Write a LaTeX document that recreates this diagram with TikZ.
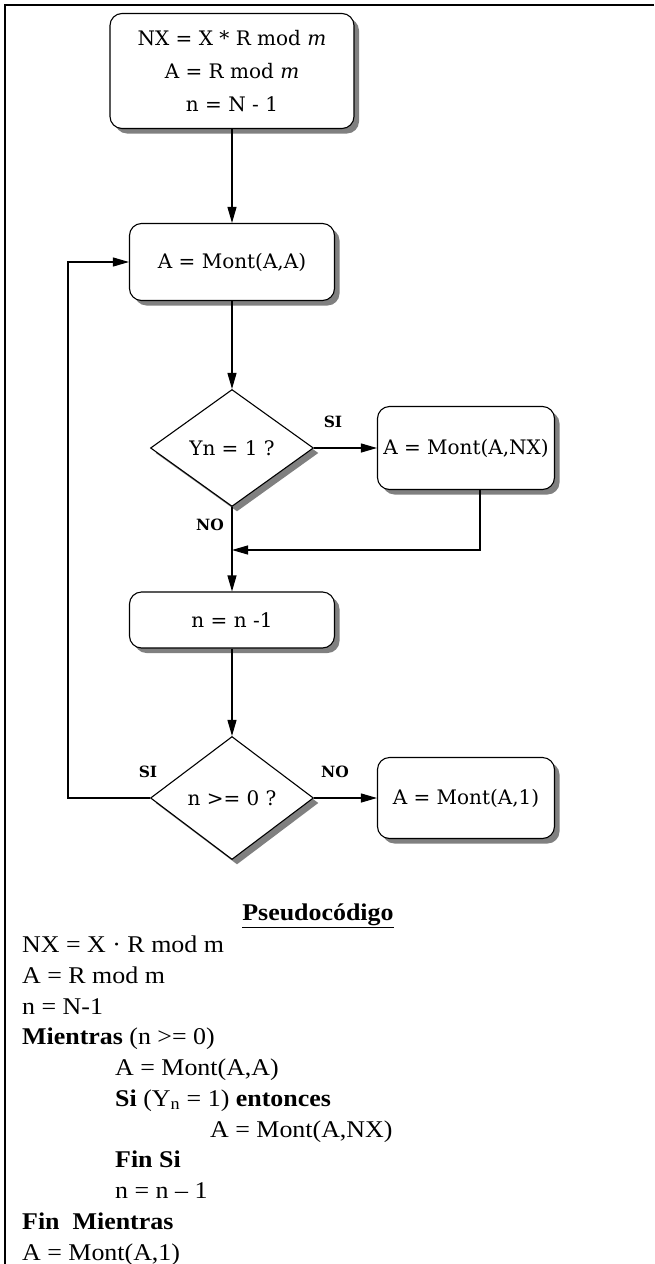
\documentclass[tikz,border=0pt]{standalone}
\usepackage{fontspec}
\setmainfont{Liberation Serif}
\newfontfamily\fcfont{DejaVu Serif}
\newfontfamily\pcfont[FakeStretch=1.08, Ligatures=TeX]{Liberation Serif}
\usetikzlibrary{positioning, shapes.geometric, shadows, arrows.meta}

\begin{document}
\begin{tikzpicture}[x=1pt, y=-1pt, >={Triangle[length=16pt,width=9pt]}]

        % Definición de estilos
        \tikzset{
            caja/.style={draw, line width=1.1pt, rounded corners=12pt, fill=white, align=center, inner sep=0pt, font=\fcfont\fontsize{20}{33}\selectfont, drop shadow={shadow xshift=5pt, shadow yshift=-5pt, fill=black!50, opacity=1}},
            decis/.style={draw, line width=1.1pt, diamond, fill=white, inner sep=0pt, font=\fcfont\fontsize{20}{24}\selectfont, drop shadow={shadow xshift=5pt, shadow yshift=-5pt, fill=black!50, opacity=1}},
            etiq/.style={font=\fcfont\bfseries\fontsize{15.5}{17}\selectfont, inner sep=0pt},
            flecha/.style={->, line width=1.1pt},
            pcline/.style={anchor=base west, inner sep=0pt, font=\pcfont\fontsize{24}{28}\selectfont}
        }
        \useasboundingbox (0,0) rectangle (655,1264);

        % --- MARCO ---
        \draw[line width=2.6pt] (654,5) -- (5,5) -- (5,1264);

        % --- DIAGRAMA DE FLUJO ---
        \node[caja, minimum width=244pt, minimum height=115pt] (init) at (232,71) {NX = X * R mod \textit{m}\\A = R mod \textit{m}\\n = N - 1};
        \node[caja, minimum width=205pt, minimum height=77pt] (sq) at (232,262) {A = Mont(A,A)};
        \node[decis, minimum width=163pt, minimum height=117pt] (testbit) at (232,448) {Yn = 1 ?};
        \node[caja, minimum width=177pt, minimum height=83pt] (mulnx) at (466,448) {A = Mont(A,NX)};
        \node[caja, minimum width=205pt, minimum height=56pt] (dec) at (232,620) {n = n -1};
        \node[decis, minimum width=163pt, minimum height=123pt] (testn) at (232,798) {n >= 0 ?};
        \node[caja, minimum width=177pt, minimum height=81pt] (result) at (466,798) {A = Mont(A,1)};

        \coordinate (join) at (232,550);
        \coordinate (mrg) at (480,550);
        \coordinate (loopx) at (68,798);

        % Etiquetas
        \node[etiq] (si1) at (333,422) {SI};
        \node[etiq] (no1) at (210,525) {NO};
        \node[etiq] (si2) at (148,772) {SI};
        \node[etiq] (no2) at (335,772) {NO};

        % --- CONEXIONES ---
        \draw[flecha] (init.south) -- (sq.north);
        \draw[flecha] (sq.south) -- (testbit.north);
        \draw[flecha] (testbit.east) -- (mulnx.west);
        \draw[flecha] (mulnx.south -| mrg) |- (join);
        \draw[flecha] (testbit.south) -- (dec.north);
        \draw[flecha] (dec.south) -- (testn.north);
        \draw[flecha] (testn.east) -- (result.west);
        \draw[flecha] (testn.west) -- (loopx) |- (sq.west);

        % --- PSEUDOCODIGO ---
        \node[pcline, anchor=base] (titulo) at (318,920) {\bfseries\underline{Pseudocódigo}};
        \node[pcline] (pc1) at (22,952) {NX = X · R mod m};
        \node[pcline] (pc2) at (22,983) {A = R mod m};
        \node[pcline] (pc3) at (22,1014) {n = N-1};
        \node[pcline] (pc4) at (22,1044) {\textbf{Mientras} (n >= 0)};
        \node[pcline] (pc5) at (115,1075) {A = Mont(A,A)};
        \node[pcline] (pc6) at (115,1106) {\textbf{Si} (Y\textsubscript{n} = 1) \textbf{entonces}};
        \node[pcline] (pc7) at (210,1137) {A = Mont(A,NX)};
        \node[pcline] (pc8) at (115,1167) {\textbf{Fin Si}};
        \node[pcline] (pc9) at (115,1198) {n = n \textendash{} 1};
        \node[pcline] (pc10) at (22,1229) {\textbf{Fin\ \ Mientras}};
        \node[pcline] (pc11) at (22,1260) {A = Mont(A,1)};

\end{tikzpicture}
\end{document}
